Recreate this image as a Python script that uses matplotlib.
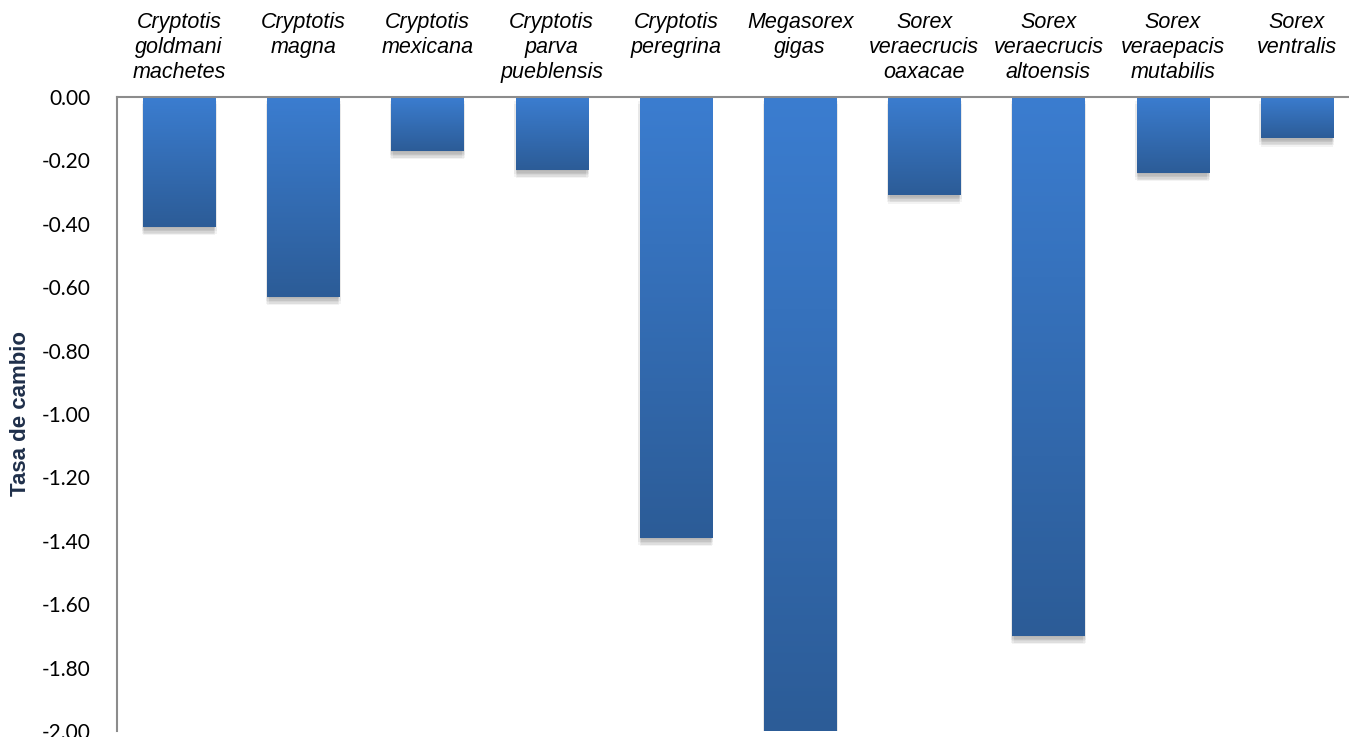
import numpy as np
import matplotlib.pyplot as plt
import matplotlib.patheffects as pe
from matplotlib.colors import LinearSegmentedColormap
from matplotlib.transforms import blended_transform_factory

# Species and their rate of change
species = [
    "Cryptotis\ngoldmani\nmachetes",
    "Cryptotis\nmagna",
    "Cryptotis\nmexicana",
    "Cryptotis\nparva\npueblensis",
    "Cryptotis\nperegrina",
    "Megasorex\ngigas",
    "Sorex\nveraecrucis\noaxacae",
    "Sorex\nveraecrucis\naltoensis",
    "Sorex\nveraepacis\nmutabilis",
    "Sorex\nventralis",
]
tasa = [-0.41, -0.63, -0.17, -0.23, -1.39, -2.00, -0.31, -1.70, -0.24, -0.13]
yticks = [0.0, -0.2, -0.4, -0.6, -0.8, -1.0, -1.2, -1.4, -1.6, -1.8, -2.0]

W, H = 1349, 737
fig = plt.figure(figsize=(W / 100, H / 100), dpi=100)
# axes runs off the right edge, like the original sheet export
ax = fig.add_axes([117 / W, 6 / H, 1242 / W, 634 / H])

x = np.arange(len(species))
bar_w = 0.58
bars = ax.bar(x, tasa, width=bar_w, color="#3470b8", zorder=2)

# soft drop shadow under each bar (a few faint layers fake the blur)
shadow = [
    pe.SimplePatchShadow(offset=(dx, dy), shadow_rgbFace="#606060", alpha=0.07)
    for dx, dy in [(0, -1), (0, -2), (1, -3), (-1, -3), (0, -4), (1, -5), (-1, -5), (0, -6)]
]
for b in bars:
    b.set_path_effects(shadow + [pe.Normal()])

# vertical gradient fill, lighter at the top
grad = LinearSegmentedColormap.from_list("bar", ["#2c5c97", "#3b7dd0"])
g = np.linspace(0, 1, 256).reshape(-1, 1)
for xi, v, b in zip(x, tasa, bars):
    im = ax.imshow(g, cmap=grad, aspect="auto", origin="lower",
                   extent=[xi - bar_w / 2, xi + bar_w / 2, v, 0], zorder=3)
    im.set_clip_path(b)

ax.set_xlim(-0.5, len(species) - 0.5)
ax.set_ylim(-2.0, 0.0)

ax.set_yticks(yticks)
ax.set_yticklabels([f"{t:.2f}" for t in yticks], fontfamily="Lato", fontsize=15)
ax.tick_params(axis="y", length=0, pad=19, colors="black")
ax.set_xticks([])

for s in ["right", "bottom"]:
    ax.spines[s].set_visible(False)
for s in ["left", "top"]:
    ax.spines[s].set_color("#8c8c8c")
    ax.spines[s].set_linewidth(1.5)
    ax.spines[s].set_zorder(4)

ax.set_ylabel("Tasa de cambio", fontfamily="Liberation Sans", fontweight="bold",
              fontsize=16, color="#1f2f4a")
ax.yaxis.set_label_coords(-0.069, 0.5)

# species names above the zero line
trans = blended_transform_factory(ax.transData, fig.transFigure)
for xi, name in zip(x, species):
    ax.text(xi, 1 - 12 / H, name, transform=trans, ha="center", va="top",
            fontfamily="Liberation Sans", fontstyle="italic", fontsize=15.5,
            linespacing=1.25, clip_on=False)

fig.savefig("out.png", dpi=100)
